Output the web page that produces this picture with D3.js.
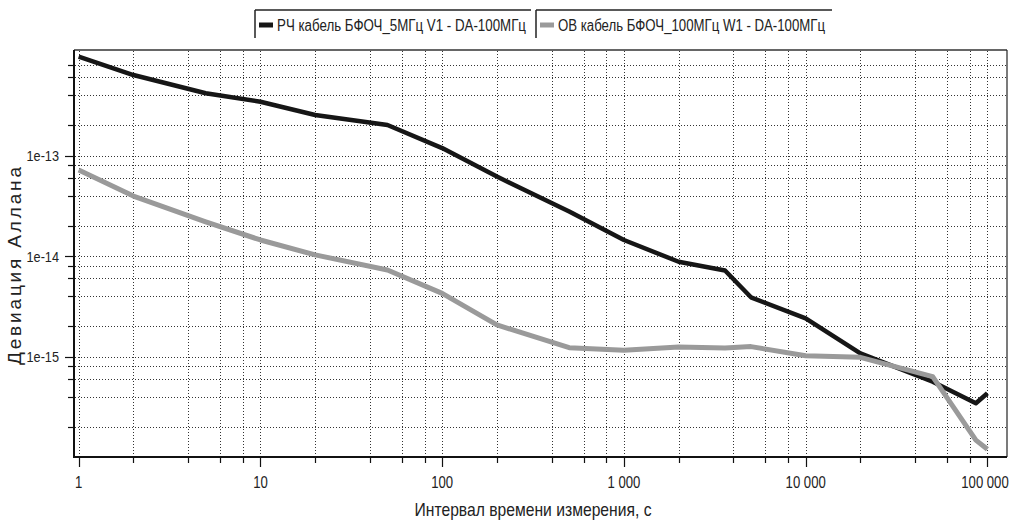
<!DOCTYPE html>
<html><head><meta charset="utf-8">
<script src="https://cdn.jsdelivr.net/npm/d3@7"></script>
<style>
body{margin:0;background:#fff;}
svg{display:block}
text{font-family:"Liberation Sans",Arial,sans-serif;fill:#222;}
</style>
</head><body>
<svg id="c" width="1011" height="520"></svg>
<script>
// ---- data ----
const tau = [1,2,5,10,20,50,100,200,500,1000,2000,3600,5000,10000,20000,50000,86400,100000];
const rfCable = [9.7e-13,6.35e-13,4.18e-13,3.44e-13,2.54e-13,2.02e-13,1.19e-13,6.2e-14,2.78e-14,1.45e-14,8.8e-15,7.2e-15,3.9e-15,2.41e-15,1.08e-15,5.64e-16,3.44e-16,4.33e-16];
const fiberCable = [7.21e-14,3.97e-14,2.2e-14,1.45e-14,1.03e-14,7.3e-15,4.27e-15,2.07e-15,1.23e-15,1.16e-15,1.25e-15,1.22e-15,1.26e-15,1.02e-15,9.86e-16,6.33e-16,1.48e-16,1.2e-16];
const seriesNames = ["РЧ кабель БФОЧ_5МГц V1 - DA-100МГц","ОВ кабель БФОЧ_100МГц W1 - DA-100МГц"];
const xMajor = [1,10,100,1000,10000,100000];
const xMajorLabels = ["1","10","100","1 000","10 000","100 000"];
const xMinor = [2,4,6,8,20,40,60,80,200,400,600,800,2000,4000,6000,8000,20000,40000,60000,80000];
const yMajor = [1e-13,1e-14,1e-15];
const yMajorLabels = ["1e-13","1e-14","1e-15"];
const yMinor = [8e-13,6e-13,4e-13,2e-13,8e-14,6e-14,4e-14,2e-14,8e-15,6e-15,4e-15,2e-15,8e-16,6e-16,4e-16,2e-16];
const xTitle = "Интервал времени измерения, с";
const yTitle = "Девиация Аллана";

// ---- layout ----
const L = 74, R = 1007, T = 50, B = 457;
const svg = d3.select("#c");
const x = d3.scaleLog().domain([1,100000]).range([78.7,987.4]);
const y = d3.scaleLog().domain([1e-13,1e-15]).range([155.7,356.7]);
const NARROW = 0.82;
function narrowText(parent, px, py, str, size, anchor){
  const g = parent.append("g").attr("transform",`translate(${px},${py}) scale(${NARROW},1)`);
  g.append("text").attr("x",0).attr("y",0).attr("font-size",size).attr("text-anchor",anchor||"start").text(str);
  return g;
}

// grid
const gridG = svg.append("g").attr("stroke","#333").attr("stroke-width",1).attr("stroke-dasharray","1,2");
xMajor.concat(xMinor).forEach(v=>{
  const px = Math.round(x(v))+0.5;
  gridG.append("line").attr("x1",px).attr("x2",px).attr("y1",T+1).attr("y2",B-1);
});
yMajor.concat(yMinor).forEach(v=>{
  const py = Math.round(y(v))+0.5;
  gridG.append("line").attr("x1",L+1).attr("x2",R-1).attr("y1",py).attr("y2",py);
});

// frame
svg.append("line").attr("x1",L).attr("x2",R).attr("y1",T).attr("y2",T).attr("stroke","#666").attr("stroke-width",2);
svg.append("line").attr("x1",R).attr("x2",R).attr("y1",T).attr("y2",B).attr("stroke","#222").attr("stroke-width",1.2);
svg.append("line").attr("x1",L).attr("x2",L).attr("y1",T).attr("y2",B+1).attr("stroke","#111").attr("stroke-width",2);
svg.append("line").attr("x1",L).attr("x2",R).attr("y1",B).attr("y2",B).attr("stroke","#111").attr("stroke-width",2);

// y ticks
const yt = svg.append("g").attr("stroke","#111").attr("stroke-width",1.2);
yMinor.forEach(v=>{ const py=Math.round(y(v))+0.5; yt.append("line").attr("x1",L-6).attr("x2",L).attr("y1",py).attr("y2",py);});
yMajor.forEach(v=>{ const py=Math.round(y(v))+0.5; yt.append("line").attr("x1",L-9).attr("x2",L).attr("y1",py).attr("y2",py);});
const ylab = svg.append("g");
yMajor.forEach((v,i)=> narrowText(ylab, 59, y(v)+5.5, yMajorLabels[i], 15.5, "end"));

// x ticks
const xt = svg.append("g").attr("stroke","#111").attr("stroke-width",1.2);
xMinor.forEach(v=>{ const px=Math.round(x(v))+0.5; xt.append("line").attr("x1",px).attr("x2",px).attr("y1",B).attr("y2",B+6);});
xMajor.forEach(v=>{ const px=Math.round(x(v))+0.5; xt.append("line").attr("x1",px).attr("x2",px).attr("y1",B).attr("y2",B+10);});
const xlab = svg.append("g");
xMajor.forEach((v,i)=> narrowText(xlab, Math.min(x(v), 985), 488, xMajorLabels[i], 16, "middle"));

// titles
svg.append("text").attr("x",533).attr("y",516).attr("text-anchor","middle")
  .attr("font-size",19).attr("textLength",237).attr("lengthAdjust","spacingAndGlyphs").text(xTitle);
svg.append("text").attr("transform","translate(21,266) rotate(-90)").attr("text-anchor","middle")
  .attr("font-size",19).attr("textLength",198).attr("lengthAdjust","spacing").text(yTitle);

// lines
const line = d3.line().x((d,i)=>x(tau[i])).y(d=>y(d));
svg.append("path").datum(rfCable).attr("d",line).attr("fill","none").attr("stroke","#161616").attr("stroke-width",4.5).attr("stroke-linejoin","round");
svg.append("path").datum(fiberCable).attr("d",line).attr("fill","none").attr("stroke","#9a9a9a").attr("stroke-width",5).attr("stroke-linejoin","round");

// legend
const legColors = ["#161616","#9a9a9a"];
const legX = [255, 536], legEnd = [531, 832], legTextW = [249, 267];
seriesNames.forEach((n,i)=>{
  const g = svg.append("g");
  g.append("line").attr("x1",legX[i]).attr("x2",legEnd[i]).attr("y1",10).attr("y2",10).attr("stroke","#222").attr("stroke-width",1.5);
  g.append("line").attr("x1",legX[i]).attr("x2",legX[i]).attr("y1",10).attr("y2",38).attr("stroke","#222").attr("stroke-width",1.5);
  g.append("line").attr("x1",legX[i]+4).attr("x2",legX[i]+18).attr("y1",25).attr("y2",25).attr("stroke",legColors[i]).attr("stroke-width",5);
  g.append("text").attr("x",legX[i]+22).attr("y",31)
    .attr("font-size",16).attr("textLength",legTextW[i]).attr("lengthAdjust","spacingAndGlyphs").text(n);
});
</script>
</body></html>
